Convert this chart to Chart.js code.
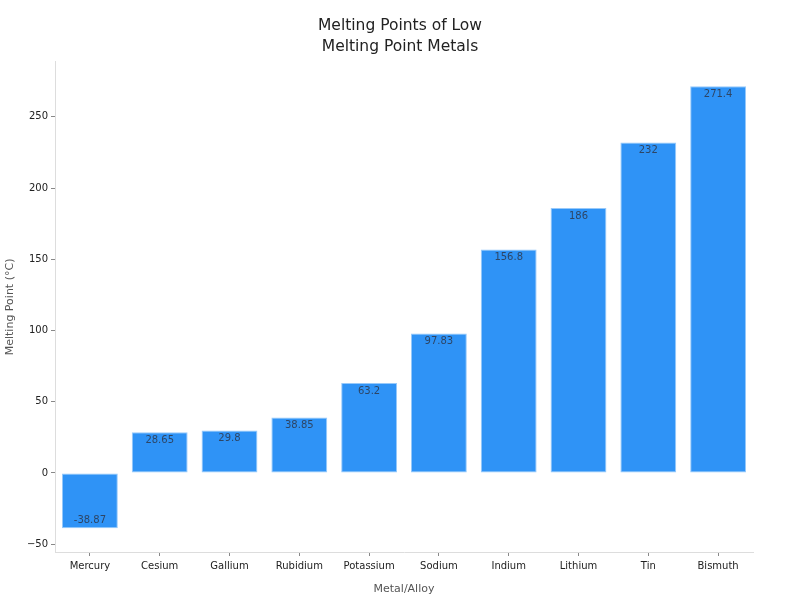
<!DOCTYPE html>
<html>
<head>
<meta charset="utf-8">
<script src="https://cdn.jsdelivr.net/npm/chart.js@4.4.0/dist/chart.umd.min.js"></script>
<style>
  html, body { margin: 0; padding: 0; background: #fff; }
  #wrap { width: 800px; height: 600px; }
</style>
</head>
<body>
<div id="wrap"><canvas id="barChart" width="800" height="600"></canvas></div>
<script>
const metals = ['Mercury', 'Cesium', 'Gallium', 'Rubidium', 'Potassium', 'Sodium', 'Indium', 'Lithium', 'Tin', 'Bismuth'];
const meltingPoints = [-38.87, 28.65, 29.8, 38.85, 63.2, 97.83, 156.8, 186, 232, 271.4];
const yTicks = [-50, 0, 50, 100, 150, 200, 250];

const font = "'DejaVu Sans', sans-serif";

// labels drawn inside the top (or bottom for negatives) of each bar
const barLabels = {
    id: 'barLabels',
    afterLayout(chart) {
        // centre the title on the whole canvas, not the padded box
        const t = chart.titleBlock;
        if (t) { t.left = 0; t.right = chart.width; t.width = chart.width; }
    },
    afterDatasetsDraw(chart) {
        const ctx = chart.ctx;
        const meta = chart.getDatasetMeta(0);
        ctx.save();
        ctx.font = '10px ' + font;
        ctx.fillStyle = 'rgba(45, 55, 75, 0.85)';
        ctx.textAlign = 'center';
        ctx.textBaseline = 'middle';
        meta.data.forEach((bar, i) => {
            const v = meltingPoints[i];
            ctx.fillText(String(v), bar.x, bar.y + (v >= 0 ? 8 : -8));
        });
        ctx.restore();
    }
};

const barChart = new Chart(document.getElementById('barChart').getContext('2d'), {
    type: 'bar',
    data: {
        labels: metals,
        datasets: [{
            label: 'Melting Point (°C)',
            data: meltingPoints,
            backgroundColor: '#2f93f6',
            borderColor: 'rgba(140, 195, 250, 0.9)',
            borderWidth: 1,
            borderSkipped: false,
            categoryPercentage: 0.8,
            barPercentage: 1.0
        }]
    },
    options: {
        responsive: false,
        animation: false,
        layout: { padding: { left: 0, right: 47, top: 0, bottom: 0 } },
        plugins: {
            legend: { display: false },
            tooltip: { enabled: false },
            title: {
                display: true,
                text: ['Melting Points of Low', 'Melting Point Metals'],
                color: '#222',
                font: { family: font, size: 15.5, weight: 'normal', lineHeight: 1.35 },
                padding: { top: 16, bottom: 4 }
            }
        },
        scales: {
            x: {
                grid: { drawOnChartArea: false, offset: false, tickLength: 4, color: '#888' },
                border: { color: '#ddd' },
                ticks: { color: '#222', font: { family: font, size: 10 }, padding: 4, maxRotation: 0 },
                title: { display: true, text: 'Metal/Alloy', color: '#555', font: { family: font, size: 11 }, padding: { top: 6 } },
                afterFit(scale) { scale.height = 48; }
            },
            y: {
                min: -55.5,
                max: 288.6,
                afterBuildTicks(scale) { scale.ticks = yTicks.map(v => ({ value: v })); },
                grid: { drawOnChartArea: false, tickLength: 4, color: '#888' },
                border: { color: '#ddd' },
                ticks: {
                    color: '#222',
                    font: { family: font, size: 10 },
                    padding: 3,
                    callback: v => String(v).replace('-', '\u2212')
                },
                title: { display: true, text: 'Melting Point (°C)', color: '#555', font: { family: font, size: 11 }, padding: { bottom: 4 } },
                afterFit(scale) { scale.width = 55; }
            }
        }
    },
    plugins: [barLabels]
});
</script>
</body>
</html>
